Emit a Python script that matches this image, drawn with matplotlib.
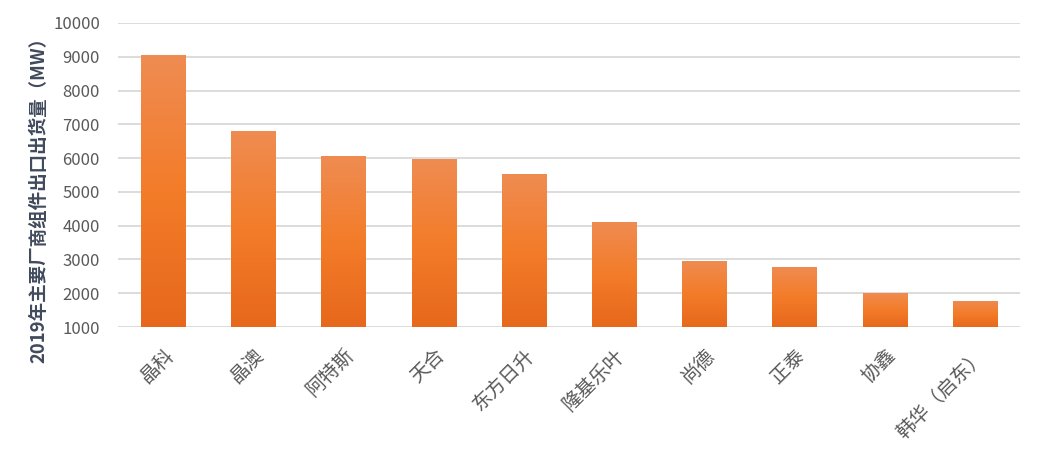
import numpy as np
import matplotlib
matplotlib.use("Agg")
import matplotlib.pyplot as plt
from matplotlib.colors import LinearSegmentedColormap

plt.rcParams['font.family'] = ['Noto Sans CJK SC', 'DejaVu Sans']

# data
companies = ['晶科', '晶澳', '阿特斯', '天合', '东方日升', '隆基乐叶', '尚德', '正泰', '协鑫', '韩华（启东）']
shipments = [9050, 6800, 6060, 5970, 5530, 4110, 2960, 2780, 2010, 1770]
y_ticks = [1000, 2000, 3000, 4000, 5000, 6000, 7000, 8000, 9000, 10000]
y_label = '2019年主要厂商组件出口出货量（MW）'

# orange gradient, dark at the bottom, light at the top
grad = LinearSegmentedColormap.from_list('bar_grad', ['#E7681C', '#F37C29', '#EF8C52'])

fig = plt.figure(figsize=(10.48, 4.5), dpi=100)
ax = fig.add_axes([0.1126, 0.2733, 0.8607, 0.6756])

x = np.arange(len(companies))
bar_w = 0.49
base = y_ticks[0]
bars = ax.bar(x, np.array(shipments) - base, bottom=base, width=bar_w,
              color='none', edgecolor='none', zorder=3)

gradient = np.linspace(0, 1, 256).reshape(-1, 1)
for b in bars:
    bx, by = b.get_x(), b.get_y()
    bw, bh = b.get_width(), b.get_height()
    im = ax.imshow(gradient, cmap=grad, origin='lower', aspect='auto',
                   extent=[bx, bx + bw, by, by + bh], zorder=3)
    im.set_clip_path(b)

ax.set_xlim(-0.5, len(companies) - 0.5)
ax.set_ylim(base, y_ticks[-1])
ax.set_yticks(y_ticks)
ax.set_yticklabels([str(v) for v in y_ticks], fontsize=12, color='#595959')
ax.set_xticks(x)
ax.set_xticklabels(companies, rotation=45, ha='right', rotation_mode='anchor',
                   fontsize=14, color='#595959', fontweight='light')
ax.tick_params(axis='y', length=0, pad=13)
ax.tick_params(axis='x', length=0, pad=13)

ax.grid(axis='y', color='#D9D9D9', linewidth=1.3, zorder=0)
ax.set_axisbelow(True)
for s in ax.spines.values():
    s.set_visible(False)

ax.set_ylabel(y_label, fontsize=13.3, fontweight='bold', color='#404A5C')
ax.yaxis.set_label_coords(-0.077, 0.432)

fig.savefig('out.png', dpi=100)
